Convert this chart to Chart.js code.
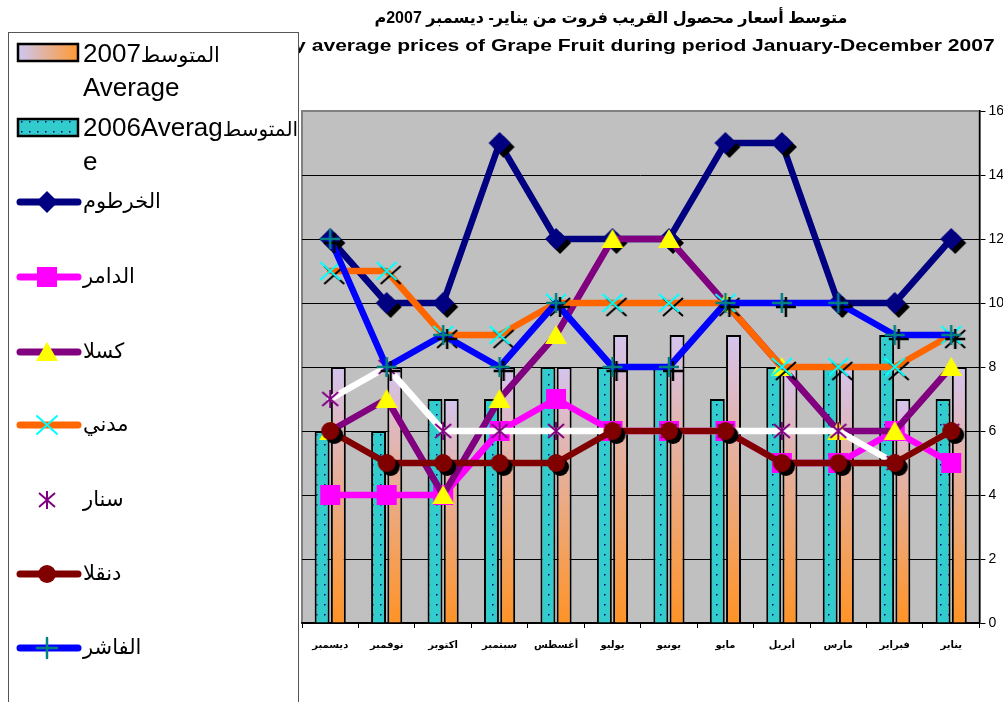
<!DOCTYPE html>
<html>
<head>
<meta charset="utf-8">
<script src="https://cdn.jsdelivr.net/npm/chart.js@4.4.1/dist/chart.umd.min.js"></script>
<style>
  html, body { margin: 0; padding: 0; background: #fff; overflow: hidden; }
  #wrap { position: relative; width: 1003px; height: 702px; overflow: hidden; }
  #chart { position: absolute; left: 0; top: 0; }
  .title { position: absolute; white-space: nowrap; font-family: "Liberation Sans", Arial, "DejaVu Sans", sans-serif; font-weight: bold; color: #000; }
  #t1 { left: 611px; top: 8px; font-size: 16px; transform: translateX(-50%); }
  #t2 { right: 8px; top: 36px; font-size: 17px; transform: scaleX(1.24); transform-origin: right center; }
  #legend { position: absolute; left: 8px; top: 32px; width: 289px; height: 700px; border: 1px solid #555; background: #fff;
            font-family: "Liberation Sans", Arial, "DejaVu Sans", sans-serif; font-size: 26px; color: #000; }
  #legend canvas { position: absolute; left: 0; }
  #legend .txt { position: absolute; left: 74px; white-space: nowrap; line-height: 32px; }
  #legend .ar { font-size: 21px; }
</style>
</head>
<body>
<div id="wrap">
  <canvas id="chart" width="1020" height="702"></canvas>
  <div class="title" id="t1" dir="rtl">متوسط أسعار محصول القريب فروت من يناير- ديسمبر 2007م</div>
  <div class="title" id="t2">Monthly average prices of Grape Fruit during period January-December 2007</div>
  <div id="legend"></div>
</div>
<script>
const months = ['يناير', 'فبراير', 'مارس', 'أبريل', 'مايو', 'يونيو', 'يوليو', 'أغسطس', 'سبتمبر', 'اكتوبر', 'نوفمبر', 'ديسمبر'];
const avg2007 = [8, 7, 8, 8, 9, 9, 9, 8, 8, 7, 8, 8];
const avg2006 = [7, 9, 8, 8, 7, 8, 8, 8, 7, 7, 6, 6];
const khartoum = [12, 10, 10, 15, 15, 12, 12, 12, 15, 10, 10, 12];
const damer = [5, 6, 5, 5, 6, 6, 6, 7, 6, 4, 4, 4];
const kassala = [8, 6, 6, 8, 10, 12, 12, 9, 7, 4, 7, 6];
const madani = [9, 8, 8, 8, 10, 10, 10, 10, 9, 9, 11, 11];
const sennar = [6, 5, 6, 6, 6, 6, 6, 6, 6, 6, 8, 7];
const dongola = [6, 5, 5, 5, 6, 6, 6, 5, 5, 5, 5, 6];
const fasher = [9, 9, 10, 10, 10, 8, 8, 10, 8, 9, 8, 12];
const yTicks = [0, 2, 4, 6, 8, 10, 12, 14, 16];

const FONT = '"Liberation Sans", Arial, "DejaVu Sans", sans-serif';
Chart.defaults.font.family = FONT;
Chart.defaults.color = '#000';

// marker shapes (dark = black drop shadow)
function diamond(g, x, y, dark) {
  g.fillStyle = dark ? '#000' : '#000080';
  g.beginPath();
  g.moveTo(x, y - 11); g.lineTo(x + 11, y); g.lineTo(x, y + 11); g.lineTo(x - 11, y);
  g.closePath(); g.fill();
}
function square(g, x, y) {
  g.fillStyle = '#FF00FF';
  g.fillRect(x - 10, y - 10, 20, 20);
}
function triangle(g, x, y) {
  g.fillStyle = '#FFFF00';
  g.beginPath();
  g.moveTo(x, y - 10); g.lineTo(x + 11, y + 9); g.lineTo(x - 11, y + 9);
  g.closePath(); g.fill();
}
function cross(g, x, y, dark) {
  g.strokeStyle = dark ? '#000' : '#00FFFF';
  g.lineWidth = 2;
  g.beginPath();
  g.moveTo(x - 10, y - 9); g.lineTo(x + 10, y + 9);
  g.moveTo(x + 10, y - 9); g.lineTo(x - 10, y + 9);
  g.stroke();
}
function star(g, x, y) {
  g.strokeStyle = '#800080';
  g.lineWidth = 2;
  g.beginPath();
  g.moveTo(x - 8, y - 7); g.lineTo(x + 8, y + 7);
  g.moveTo(x + 8, y - 7); g.lineTo(x - 8, y + 7);
  g.moveTo(x, y - 9); g.lineTo(x, y + 9);
  g.stroke();
}
function circle(g, x, y, dark) {
  g.fillStyle = dark ? '#000' : '#800000';
  g.beginPath(); g.arc(x, y, 9, 0, Math.PI * 2); g.fill();
}
function plus(g, x, y, dark) {
  g.strokeStyle = dark ? '#000' : '#008080';
  g.lineWidth = 2.5;
  g.beginPath();
  g.moveTo(x - 10, y); g.lineTo(x + 10, y);
  g.moveTo(x, y - 10); g.lineTo(x, y + 10);
  g.stroke();
}

function marker(fn, shadow) {
  const c = document.createElement('canvas');
  c.width = 44; c.height = 44;
  const g = c.getContext('2d');
  if (shadow) fn(g, 26, 26, true);
  fn(g, 22, 22, false);
  return c;
}

// dotted teal fill
function dotPattern() {
  const c = document.createElement('canvas');
  c.width = 8; c.height = 10;
  const g = c.getContext('2d');
  g.fillStyle = '#33CCCC';
  g.fillRect(0, 0, 8, 10);
  g.fillStyle = '#000080';
  g.fillRect(4, 4, 1.5, 1.5);
  return g.createPattern(c, 'repeat');
}
const chartCanvas = document.getElementById('chart');
const tealFill = dotPattern();

function orangeFill(context) {
  const chart = context.chart;
  const area = chart.chartArea;
  if (!area) return '#FF9933';
  const top = chart.scales.y.getPixelForValue(context.raw);
  const grad = chart.ctx.createLinearGradient(0, top, 0, area.bottom);
  grad.addColorStop(0, '#D4C4EE');
  grad.addColorStop(1, '#FF9326');
  return grad;
}

const plotBg = {
  id: 'plotBg',
  beforeDraw(chart) {
    const { ctx, chartArea: a } = chart;
    ctx.save();
    ctx.fillStyle = '#C0C0C0';
    ctx.fillRect(a.left, a.top, a.right - a.left, a.bottom - a.top);
    ctx.strokeStyle = '#808080';
    ctx.lineWidth = 2;
    ctx.strokeRect(a.left, a.top, a.right - a.left, a.bottom - a.top);
    ctx.restore();
  }
};

function lineSet(label, data, color, fn, shadow, order) {
  return {
    type: 'line',
    label: label,
    data: data,
    borderColor: color,
    backgroundColor: color,
    borderWidth: 6.5,
    borderJoinStyle: 'round',
    borderCapStyle: 'round',
    pointStyle: marker(fn, shadow),
    pointRadius: 10,
    pointHoverRadius: 10,
    fill: false,
    tension: 0,
    order: order
  };
}

new Chart(chartCanvas, {
  type: 'bar',
  plugins: [plotBg],
  data: {
    labels: months,
    datasets: [
      { type: 'bar', label: 'المتوسط2006Average', data: avg2006, backgroundColor: tealFill, borderColor: '#000', borderWidth: 2, order: 10,
        barPercentage: 0.92, categoryPercentage: 0.575 },
      { type: 'bar', label: 'المتوسط2007 Average', data: avg2007, backgroundColor: orangeFill, borderColor: '#000', borderWidth: 2, order: 11,
        barPercentage: 0.92, categoryPercentage: 0.575 },
      lineSet('الخرطوم', khartoum, '#000080', diamond, true, 7),
      lineSet('الدامر', damer, '#FF00FF', square, false, 6),
      lineSet('كسلا', kassala, '#800080', triangle, false, 5),
      lineSet('مدني', madani, '#FF6600', cross, true, 4),
      lineSet('سنار', sennar, '#FFFFFF', star, false, 3),
      lineSet('دنقلا', dongola, '#800000', circle, true, 2),
      lineSet('الفاشر', fasher, '#0000FF', plus, true, 1)
    ]
  },
  options: {
    responsive: false,
    animation: false,
    layout: { padding: { left: 302, right: 13, top: 111, bottom: 40 } },
    plugins: {
      legend: { display: false },
      tooltip: { enabled: false },
      title: { display: false }
    },
    scales: {
      x: {
        reverse: true,
        offset: true,
        grid: { offset: true, drawOnChartArea: false, color: '#000', tickColor: '#000', tickLength: 5, lineWidth: 1 },
        border: { color: '#000', width: 1.5 },
        ticks: { font: { size: 10, weight: 'bold' }, color: '#000', padding: 11, maxRotation: 0, autoSkip: false }
      },
      y: {
        position: 'right',
        min: 0,
        max: 16,
        afterBuildTicks: function(scale) {
          scale.ticks = yTicks.map(function(v) { return { value: v }; });
        },
        grid: {
          color: function(ctx) { return ctx.tick && ctx.tick.value === 16 ? '#808080' : '#000'; },
          tickColor: '#000',
          tickLength: 6,
          lineWidth: 1
        },
        border: { color: '#000', width: 1.5 },
        ticks: { font: { size: 14 }, color: '#000', padding: 3 }
      }
    }
  }
});

// legend box on the left
const legendEl = document.getElementById('legend');
const OY = 33; // legend content top in page coords

function icon(drawFn, cy) {
  const c = document.createElement('canvas');
  c.width = 80; c.height = 40;
  c.style.top = (cy - OY - 20) + 'px';
  drawFn(c.getContext('2d'));
  legendEl.appendChild(c);
}
function text(html, top) {
  const d = document.createElement('div');
  d.className = 'txt';
  d.style.top = (top - OY) + 'px';
  d.innerHTML = html;
  legendEl.appendChild(d);
}
function lineIcon(color, fn) {
  return function(g) {
    if (color) {
      g.strokeStyle = color;
      g.lineWidth = 7;
      g.lineCap = 'round';
      g.beginPath(); g.moveTo(11, 20); g.lineTo(69, 20); g.stroke();
    }
    fn(g, 38, 20, false);
  };
}

icon(function(g) {
  const grad = g.createLinearGradient(9, 0, 69, 0);
  grad.addColorStop(0, '#CCC8F4');
  grad.addColorStop(1, '#FF9933');
  g.fillStyle = grad;
  g.fillRect(9, 12, 60, 17);
  g.strokeStyle = '#000'; g.lineWidth = 2.5;
  g.strokeRect(9, 12, 60, 17);
}, 52);
text('<span class="ar">المتوسط</span>2007<br>Average', 37);

icon(function(g) {
  g.fillStyle = tealFill;
  g.fillRect(9, 12, 60, 17);
  g.strokeStyle = '#000'; g.lineWidth = 2.5;
  g.strokeRect(9, 12, 60, 17);
}, 127);
text('2006Averag<span class="ar" style="font-size:20px">المتوسط</span><br>e', 111);

const lineItems = [
  ['الخرطوم', '#000080', diamond, 202],
  ['الدامر', '#FF00FF', square, 277],
  ['كسلا', '#800080', triangle, 352],
  ['مدني', '#FF6600', cross, 425],
  ['سنار', null, star, 500],
  ['دنقلا', '#800000', circle, 574],
  ['الفاشر', '#0000FF', plus, 648]
];
lineItems.forEach(function(it) {
  icon(lineIcon(it[1], it[2]), it[3]);
  text('<span class="ar">' + it[0] + '</span>', it[3] - 19);
});
</script>
</body>
</html>
